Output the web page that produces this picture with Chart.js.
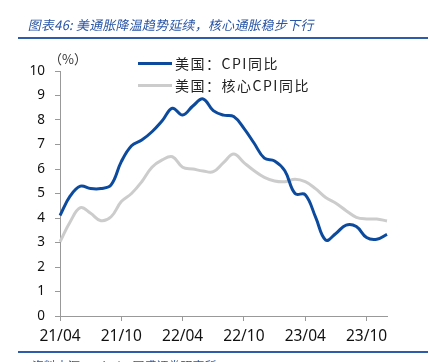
<!DOCTYPE html>
<html>
<head>
<meta charset="utf-8">
<script src="https://cdn.jsdelivr.net/npm/chart.js@4/dist/chart.umd.min.js"></script>
<style>
  html, body { margin: 0; padding: 0; background: #fff; }
  #wrap { position: relative; width: 428px; height: 362px; overflow: hidden; }
  #chart { position: absolute; left: 0; top: 0; }
  .txt { position: absolute; white-space: nowrap; font-family: "Noto Sans CJK SC", "Noto Sans", sans-serif; }
  #title { left: 27px; top: 15px; font-size: 13px; color: #2a56a6; transform: skewX(-12deg); transform-origin: left bottom; letter-spacing: 0.2px; }
  .rule { position: absolute; left: 18px; width: 410px; height: 2px; background: #2e5cab; }
  #unit { left: 49px; top: 49px; font-size: 13px; color: #333; }
  .leg { position: absolute; height: 3px; width: 34px; left: 138px; }
  .legtxt { left: 175px; font-size: 14px; color: #222; letter-spacing: 1.5px; }
  #source { left: 32px; top: 357px; font-size: 12px; color: #2a56a6; }
</style>
</head>
<body>
<div id="wrap">
  <canvas id="chart" width="428" height="362"></canvas>
  <div id="title" class="txt">图表46:  美通胀降温趋势延续，核心通胀稳步下行</div>
  <div class="rule" style="top:37px"></div>
  <div id="unit" class="txt">（%）</div>
  <div class="leg" style="top:62px;background:#0c4a9e"></div>
  <div class="txt legtxt" style="top:53px">美国：CPI同比</div>
  <div class="leg" style="top:84px;background:#cccccc"></div>
  <div class="txt legtxt" style="top:75px">美国：核心CPI同比</div>
  <div class="rule" style="top:351px"></div>
  <div id="source" class="txt">资料来源：Wind，国盛证券研究所</div>
</div>
<script>
// months from 2021-04 to 2023-12
const months = [
  "21/04", "21/05", "21/06", "21/07", "21/08", "21/09", "21/10", "21/11", "21/12",
  "22/01", "22/02", "22/03", "22/04", "22/05", "22/06", "22/07", "22/08", "22/09", "22/10", "22/11", "22/12",
  "23/01", "23/02", "23/03", "23/04", "23/05", "23/06", "23/07", "23/08", "23/09", "23/10", "23/11", "23/12"
];

// 美国：CPI同比 (%)
const cpiYoY = [
  4.1, 4.9, 5.3, 5.2, 5.2, 5.35, 6.3, 6.95, 7.18,
  7.52, 7.97, 8.48, 8.2, 8.57, 8.86, 8.38, 8.2, 8.14, 7.66, 7.05, 6.44,
  6.33, 5.93, 5.0, 4.95, 4.05, 3.1, 3.37, 3.71, 3.65, 3.2, 3.13, 3.33
];

// 美国：核心CPI同比 (%)
const coreCpiYoY = [
  3.03, 3.85, 4.42, 4.19, 3.89, 4.05, 4.67, 5.0, 5.48,
  6.07, 6.37, 6.5, 6.07, 6.0, 5.92, 5.89, 6.26, 6.61, 6.26, 5.93, 5.66,
  5.51, 5.48, 5.58, 5.48, 5.2, 4.84, 4.6, 4.3, 4.03, 3.96, 3.96, 3.88
];

const yTicks = [0, 1, 2, 3, 4, 5, 6, 7, 8, 9, 10];

const axisColor = "#999999";

const ctx = document.getElementById("chart").getContext("2d");

new Chart(ctx, {
  type: "line",
  data: {
    labels: months,
    datasets: [{
      label: "美国：CPI同比",
      data: cpiYoY,
      borderColor: "#0c4a9e",
      borderWidth: 3,
      pointRadius: 0,
      tension: 0.4
    }, {
      label: "美国：核心CPI同比",
      data: coreCpiYoY,
      borderColor: "#cccccc",
      borderWidth: 3,
      pointRadius: 0,
      tension: 0.4
    }]
  },
  options: {
    responsive: false,
    animation: false,
    layout: {
      padding: { top: 71, right: 41, bottom: 0, left: 0 }
    },
    plugins: {
      legend: { display: false },
      tooltip: { enabled: false }
    },
    scales: {
      x: {
        offset: false,
        afterFit: (scale) => { scale.height = 46; },
        border: { color: axisColor, width: 1 },
        grid: { drawOnChartArea: false, tickLength: 5, color: axisColor },
        ticks: {
          autoSkip: false,
          maxRotation: 0,
          padding: 6,
          color: "#111",
          font: { family: "Noto Sans", size: 15.5 },
          callback: function(value, index) {
            return index % 6 === 0 ? months[index] : null;
          }
        }
      },
      y: {
        min: 0,
        max: 10,
        afterFit: (scale) => { scale.width = 60; },
        afterBuildTicks: (scale) => { scale.ticks = yTicks.map(v => ({ value: v })); },
        border: { color: axisColor, width: 1 },
        grid: { drawOnChartArea: false, tickLength: 5, color: axisColor },
        ticks: {
          padding: 10,
          color: "#111",
          font: { family: "Noto Sans", size: 13.5 }
        }
      }
    }
  }
});
</script>
</body>
</html>
